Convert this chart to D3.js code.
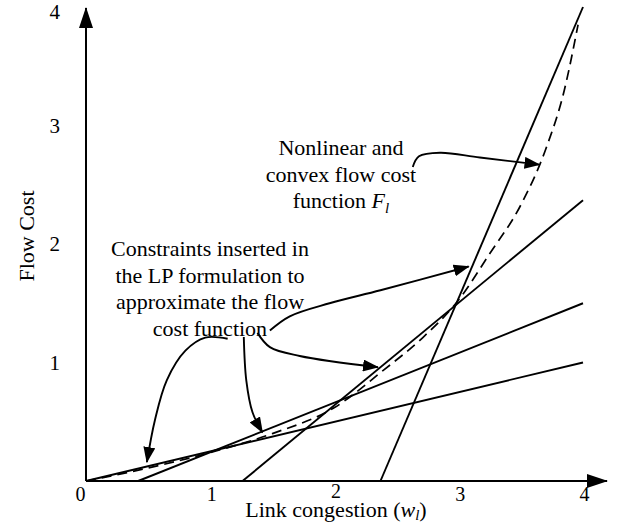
<!DOCTYPE html>
<html>
<head>
<meta charset="utf-8">
<script src="https://cdn.jsdelivr.net/npm/d3@7"></script>
<style>
  body { margin: 0; background: #fff; }
  svg { font-family: "Liberation Serif", "Times New Roman", serif; }
</style>
</head>
<body>
<div class="chart"></div>
<script>
// x-intercepts and right-end heights of the linear constraints
const lineX0 = [0, 0.42, 1.26, 2.37];
const lineX1 = [4, 4, 4, 4];
const lineY1 = [1.0, 1.5, 2.37, 4.0];

// nonlinear convex cost function F_l (dashed)
const curveX = [0, 0.5, 1, 1.5, 2, 2.4, 2.7, 3, 3.25, 3.5, 3.7, 3.85, 3.96];
const curveY = [0, 0.11, 0.24, 0.40, 0.62, 0.94, 1.2, 1.53, 1.92, 2.33, 2.8, 3.3, 3.85];

const xTicks = [0, 1, 2, 3, 4];
const yTicks = [1, 2, 3, 4];

// annotation arrows, in data units
const arrows = [
  [[2.63, 2.65], [2.68, 2.74], [2.85, 2.77], [3.17, 2.73], [3.65, 2.67]],
  [[1.48, 1.27], [1.64, 1.39], [1.96, 1.50], [2.37, 1.61], [3.08, 1.81]],
  [[1.38, 1.25], [1.48, 1.13], [1.72, 1.055], [2.35, 0.96]],
  [[1.27, 1.215], [1.29, 0.85], [1.34, 0.58], [1.42, 0.41]],
  [[1.14, 1.20], [0.96, 1.21], [0.80, 1.10], [0.65, 0.85], [0.555, 0.515], [0.49, 0.16]]
];

const W = 619, H = 525;
const x0 = 86, y0 = 481;

const svg = d3.select('.chart').append('svg')
  .attr('width', W)
  .attr('height', H);

svg.append('rect').attr('width', W).attr('height', H).attr('fill', '#fff');

const x = d3.scaleLinear().domain([0, 4]).range([x0, 583]);
const y = d3.scaleLinear().domain([0, 4]).range([y0, 7]);

const defs = svg.append('defs');
defs.append('marker')
  .attr('id', 'head')
  .attr('markerUnits', 'userSpaceOnUse')
  .attr('viewBox', '0 0 16 12')
  .attr('markerWidth', 16).attr('markerHeight', 12)
  .attr('refX', 15).attr('refY', 6)
  .attr('orient', 'auto')
  .append('path').attr('d', 'M0,0 L16,6 L0,12 Z').attr('fill', '#000');
defs.append('marker')
  .attr('id', 'axhead')
  .attr('markerUnits', 'userSpaceOnUse')
  .attr('viewBox', '0 0 21 14')
  .attr('markerWidth', 21).attr('markerHeight', 14)
  .attr('refX', 20).attr('refY', 7)
  .attr('orient', 'auto')
  .append('path').attr('d', 'M0,0 L21,7 L0,14 Z').attr('fill', '#000');

// axis lines with arrow heads
svg.append('line')
  .attr('x1', x0).attr('y1', y0).attr('x2', 607).attr('y2', y0)
  .attr('stroke', '#000').attr('stroke-width', 2)
  .attr('marker-end', 'url(#axhead)');
svg.append('line')
  .attr('x1', x0).attr('y1', y0).attr('x2', x0).attr('y2', 8)
  .attr('stroke', '#000').attr('stroke-width', 2)
  .attr('marker-end', 'url(#axhead)');

const gx = svg.append('g')
  .attr('transform', `translate(0,${y0})`)
  .call(d3.axisBottom(x).tickValues(xTicks).tickSize(0).tickPadding(6).tickFormat(d3.format('d')));
gx.select('.domain').remove();
gx.selectAll('text')
  .attr('font-size', 20).attr('font-family', 'Liberation Serif')
  .attr('dx', d => d === 0 ? -6 : 1)
  .attr('transform', d => d === 2 ? 'translate(0,-3)' : null);

const gy = svg.append('g')
  .attr('transform', `translate(${x0},0)`)
  .call(d3.axisLeft(y).tickValues(yTicks).tickSize(0).tickPadding(26).tickFormat(d3.format('d')));
gy.select('.domain').remove();
gy.selectAll('text')
  .attr('font-size', 21).attr('font-family', 'Liberation Serif')
  .attr('transform', d => d === 4 ? 'translate(0,5)' : null);

// linear constraints
const seg = d3.range(lineX0.length).map(i => [[lineX0[i], 0], [lineX1[i], lineY1[i]]]);
svg.selectAll('.lin')
  .data(seg)
  .enter().append('line')
    .attr('class', 'lin')
    .attr('x1', d => x(d[0][0])).attr('y1', d => y(d[0][1]))
    .attr('x2', d => x(d[1][0])).attr('y2', d => y(d[1][1]))
    .attr('stroke', '#000').attr('stroke-width', 1.9);

// dashed cost function
const pts = curveX.map((v, i) => [v, curveY[i]]);
svg.append('path')
  .datum(pts)
  .attr('fill', 'none')
  .attr('stroke', '#000')
  .attr('stroke-width', 1.7)
  .attr('stroke-dasharray', '10,6')
  .attr('d', d3.line().x(d => x(d[0])).y(d => y(d[1])).curve(d3.curveMonotoneX));

// annotation arrows
const arrowLine = d3.line().x(d => x(d[0])).y(d => y(d[1])).curve(d3.curveCatmullRom);
svg.selectAll('.arr')
  .data(arrows)
  .enter().append('path')
    .attr('class', 'arr')
    .attr('fill', 'none')
    .attr('stroke', '#000')
    .attr('stroke-width', 1.9)
    .attr('marker-end', 'url(#head)')
    .attr('d', arrowLine);

// text blocks
function block(cx, y1, lines) {
  const t = svg.append('g').attr('font-size', 22).attr('text-anchor', 'middle');
  lines.forEach((l, i) => {
    const tx = t.append('text').attr('x', cx).attr('y', y1 + i * 26.5);
    if (typeof l === 'string') tx.text(l);
    else l(tx);
  });
}

block(341, 155, [
  'Nonlinear and',
  'convex flow cost',
  tx => {
    tx.append('tspan').text('function ');
    tx.append('tspan').attr('font-style', 'italic').text('F');
    tx.append('tspan').attr('font-style', 'italic').attr('font-size', 15).attr('dy', 5).text('l');
  }
]);

block(210, 256, [
  'Constraints inserted in',
  'the LP formulation to',
  'approximate the flow',
  'cost function'
]);

// axis titles
const xt = svg.append('text')
  .attr('x', 336).attr('y', 517)
  .attr('text-anchor', 'middle')
  .attr('font-size', 22);
xt.append('tspan').text('Link congestion (');
xt.append('tspan').attr('font-style', 'italic').text('w');
xt.append('tspan').attr('font-style', 'italic').attr('font-size', 15).attr('dy', 3).text('l');
xt.append('tspan').attr('dy', -3).text(')');

svg.append('text')
  .attr('transform', 'translate(34,236) rotate(-90)')
  .attr('text-anchor', 'middle')
  .attr('font-size', 22)
  .text('Flow Cost');
</script>
</body>
</html>
